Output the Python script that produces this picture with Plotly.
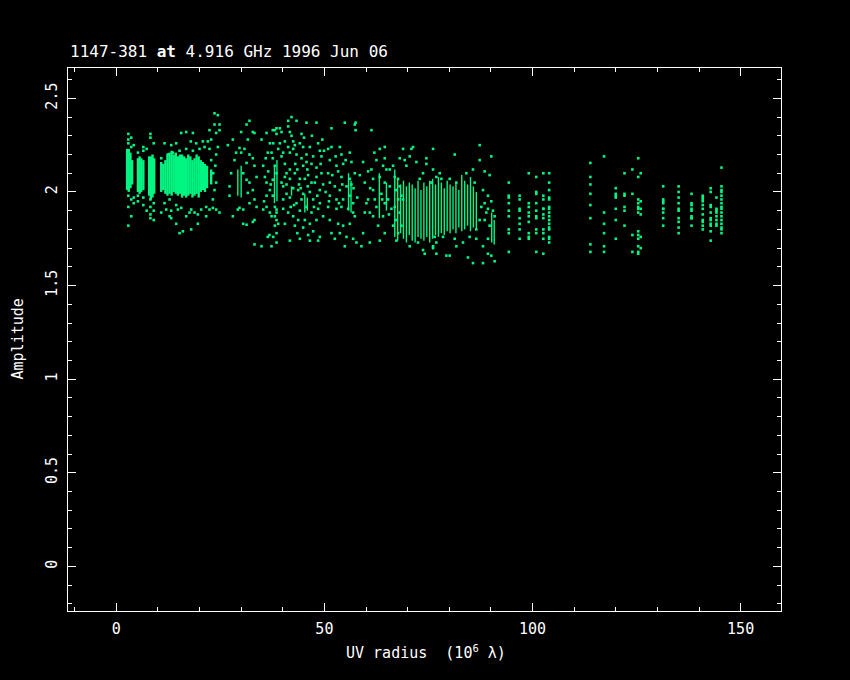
import plotly.graph_objects as go

# ---------------- data (UV radius in 10^6 lambda, amplitude) ----------------
# solid cores of the short baselines: UV radius, lowest and highest amplitude
core_uv = [2.6, 3.0, 3.4, 3.8, 5.2, 5.6, 6.0, 6.5, 7.9, 8.3, 8.7, 9.1,
           10.8, 11.3, 11.8, 12.3, 12.8, 13.3, 13.8, 14.3, 14.8, 15.3, 15.8, 16.3,
           16.8, 17.3, 17.8, 18.3, 18.8, 19.3, 19.8, 20.3, 20.8, 21.3, 21.8, 22.8]
core_lo = [2.01, 2.00, 2.02, 2.04, 2.00, 1.99, 2.00, 2.01, 1.98, 1.96, 1.97, 1.99,
           2.00, 2.01, 1.99, 1.98, 1.99, 1.98, 2.00, 1.99, 1.98, 1.99, 1.97, 1.98,
           1.97, 1.98, 1.99, 1.97, 1.98, 1.99, 1.97, 2.00, 2.01, 2.00, 2.02, 2.04]
core_hi = [2.23, 2.23, 2.21, 2.17, 2.18, 2.19, 2.18, 2.17, 2.19, 2.19, 2.20, 2.18,
           2.16, 2.15, 2.17, 2.20, 2.21, 2.22, 2.20, 2.21, 2.19, 2.20, 2.20, 2.19,
           2.18, 2.20, 2.19, 2.17, 2.18, 2.20, 2.19, 2.17, 2.16, 2.15, 2.14, 2.12]

# thinner streaks of closely packed visibilities on longer baselines
streak_uv = [29.2, 30.0, 38.0, 38.6, 42.1, 45.3, 45.9, 55.8, 56.4, 63.2, 64.9,
             66.9, 67.6, 68.3, 69.0, 69.7, 70.4, 71.1, 71.8, 72.5, 73.2, 73.9, 74.6,
             75.3, 76.0, 76.7, 77.4, 78.1, 78.8, 79.5, 80.2, 80.9, 81.6, 82.3, 83.0,
             83.7, 84.4, 85.1, 85.8, 86.5, 90.2, 90.8]
streak_lo = [1.98, 1.97, 1.94, 1.95, 1.98, 1.89, 1.90, 1.90, 1.89, 1.86, 1.90,
             1.76, 1.74, 1.78, 1.75, 1.73, 1.77, 1.74, 1.73, 1.76, 1.75, 1.74, 1.76,
             1.73, 1.75, 1.77, 1.76, 1.78, 1.77, 1.79, 1.78, 1.80, 1.78, 1.81, 1.79,
             1.80, 1.82, 1.79, 1.81, 1.80, 1.73, 1.72]
streak_hi = [2.12, 2.14, 2.14, 2.17, 2.03, 1.99, 1.97, 2.10, 2.06, 2.10, 2.05,
             2.12, 2.07, 2.04, 2.06, 2.03, 2.05, 2.04, 2.02, 2.06, 2.01, 2.05, 2.03,
             2.06, 2.07, 2.04, 2.08, 2.05, 2.02, 2.06, 2.04, 2.03, 2.05, 2.01, 2.09,
             2.06, 2.04, 2.08, 2.03, 2.00, 1.89, 1.85]

# isolated tracks: one UV radius, amplitudes read along it
track_uv = [2.9, 3.6, 4.2, 5.2, 6.5, 7.3, 8.2, 9.0,
            94.3, 96.9, 99.1, 100.9, 102.6, 104.0,
            113.9, 117.2, 120.0, 122.1, 124.0, 125.4, 126.0,
            131.4, 135.1, 138.2, 140.9, 142.8, 144.2, 145.4]
track_amp = [
    [2.31, 2.28, 2.26, 1.98, 1.92, 1.82],
    [2.29, 2.24, 1.96, 1.87],
    [2.25, 1.97, 1.94],
    [2.21, 1.98, 1.95],
    [2.24, 2.22, 1.97, 1.93],
    [2.23, 1.90],
    [2.31, 2.29, 1.96, 1.92, 1.88, 1.86],
    [2.26, 1.94, 1.90, 1.85],
    [2.05, 1.98, 1.97, 1.94, 1.90, 1.87, 1.80, 1.78, 1.68],
    [1.98, 1.96, 1.91, 1.90, 1.86, 1.83, 1.80, 1.75],
    [2.10, 1.94, 1.92, 1.89, 1.87, 1.84, 1.78, 1.76, 1.75],
    [2.08, 2.00, 1.99, 1.94, 1.90, 1.87, 1.86, 1.80, 1.78, 1.68],
    [2.10, 1.98, 1.96, 1.91, 1.91, 1.88, 1.86, 1.80, 1.78, 1.75, 1.67],
    [2.10, 2.05, 2.01, 1.97, 1.96, 1.92, 1.91, 1.89, 1.87, 1.85, 1.83, 1.81, 1.80, 1.76, 1.75, 1.73],
    [2.155, 2.08, 2.04, 1.99, 1.93, 1.86, 1.72, 1.68],
    [2.19, 1.89, 1.83, 1.78, 1.71, 1.68],
    [2.02, 1.99, 1.98, 1.97, 1.91, 1.85, 1.75],
    [2.10, 1.99, 1.98, 1.92, 1.90, 1.82],
    [2.12, 1.99, 1.77, 1.68],
    [2.18, 2.08, 1.96, 1.94, 1.92, 1.91, 1.89, 1.79, 1.77, 1.75, 1.71, 1.68, 1.67],
    [2.10, 1.95, 1.91, 1.88, 1.76, 1.70],
    [2.03, 1.96, 1.95, 1.94, 1.91, 1.91, 1.89, 1.86, 1.82],
    [2.03, 2.00, 1.97, 1.94, 1.91, 1.90, 1.86, 1.84, 1.81, 1.78],
    [1.99, 1.94, 1.93, 1.91, 1.90, 1.87, 1.86, 1.86, 1.82],
    [1.98, 1.97, 1.96, 1.95, 1.93, 1.91, 1.88, 1.85, 1.84, 1.82, 1.80],
    [2.02, 2.00, 1.93, 1.92, 1.89, 1.86, 1.85, 1.83, 1.82, 1.79, 1.74],
    [1.97, 1.91, 1.90, 1.89, 1.87, 1.85, 1.83, 1.82],
    [2.13, 2.03, 2.01, 2.00, 1.98, 1.96, 1.94, 1.92, 1.91, 1.89, 1.87, 1.85, 1.83, 1.81, 1.80, 1.78],
]

# scattered visibilities (uv, amp)
short_points = [
    (16.8, 2.32), (18.4, 2.315), (15.6, 2.315), (14.4, 2.26), (13.2, 2.25), (17.9, 2.27),
    (19.2, 2.26), (20.8, 2.27), (22.0, 2.27), (22.8, 2.28), (24.0, 2.315), (23.6, 2.36),
    (24.8, 2.36), (23.6, 2.42), (24.4, 2.41), (24.8, 2.33), (22.4, 2.33), (11.6, 2.26),
    (12.8, 1.96), (12.0, 1.906), (12.8, 1.87), (13.2, 1.90), (14.4, 1.93), (14.8, 1.906),
    (15.6, 1.915), (16.8, 1.87), (17.6, 1.89), (18.0, 1.906), (18.8, 1.89), (19.6, 1.88),
    (20.4, 1.906), (21.6, 1.92), (22.4, 1.906), (23.2, 1.915), (24.0, 1.906), (24.8, 1.89),
    (15.2, 1.78), (16.0, 1.79), (18.0, 1.80), (13.2, 1.86), (10.8, 1.89), (11.6, 1.94),
    (14.4, 1.83), (19.6, 1.83), (21.6, 1.87), (23.2, 1.96), (23.6, 2.01), (24.0, 2.05),
    (23.3, 2.10), (23.8, 2.14), (22.8, 2.17), (24.0, 2.20), (24.4, 2.24), (22.4, 2.23),
    (21.2, 2.24), (20.0, 2.23), (18.4, 2.22), (16.8, 2.23), (15.2, 2.22), (13.6, 2.21),
    (12.4, 2.20), (10.8, 2.18),
    (26.8, 2.25), (28.0, 2.28), (30.0, 2.32), (31.3, 2.36), (32.0, 2.38), (32.8, 2.32),
    (33.2, 2.315), (31.6, 2.28), (30.8, 2.23), (32.0, 2.20), (32.8, 2.18), (33.2, 2.14),
    (33.7, 2.08), (32.0, 2.05), (32.8, 2.01), (33.2, 1.96), (33.7, 1.92), (30.5, 1.906),
    (29.6, 1.915), (29.2, 1.906), (28.0, 1.87), (30.5, 1.83), (31.3, 1.825), (32.8, 1.84),
    (33.2, 1.85), (27.2, 1.98), (27.2, 2.03), (27.6, 2.10), (28.4, 2.17), (28.8, 2.21),
    (30.0, 2.21), (29.6, 2.235), (31.3, 2.155), (30.5, 2.10), (31.3, 2.065), (31.6, 1.995),
    (32.0, 1.94), (33.2, 1.72), (34.9, 1.71), (36.4, 1.76), (36.8, 1.77), (38.1, 1.82),
    (38.5, 1.85), (36.1, 2.315), (37.6, 2.33), (38.5, 2.34), (36.9, 2.26), (36.4, 2.21),
    (37.6, 2.18), (38.1, 2.14), (38.5, 2.10), (37.6, 2.065), (36.1, 2.05), (36.9, 2.01),
    (37.6, 1.98), (36.1, 1.92), (35.3, 1.906), (38.5, 1.906), (38.1, 1.87), (34.9, 2.28),
    (35.3, 2.14), (35.7, 2.08), (36.1, 1.98),
    (38.1, 2.33), (38.5, 2.31), (37.7, 2.26), (38.9, 2.23), (37.3, 2.21), (38.1, 1.92),
    (38.5, 1.89), (37.3, 1.87), (38.9, 1.83), (37.7, 1.76), (37.3, 1.71), (38.5, 1.78),
    (38.5, 1.73),
]

mid_points = [
    (42.1, 2.40), (41.3, 2.38), (43.3, 2.38), (45.7, 2.37), (48.1, 2.37), (41.3, 2.35),
    (39.3, 2.34), (39.7, 2.32), (41.7, 2.32), (42.1, 2.30), (44.5, 2.31), (44.1, 2.26),
    (40.5, 2.27), (41.3, 2.24), (42.5, 2.23), (44.9, 2.24), (46.5, 2.24), (48.5, 2.26),
    (48.9, 2.22), (41.7, 2.21), (43.3, 2.20), (44.5, 2.18), (45.7, 2.20), (47.3, 2.19),
    (49.3, 2.19), (40.5, 2.15), (41.7, 2.12), (42.9, 2.10), (44.9, 2.14), (45.7, 2.16),
    (46.9, 2.15), (48.1, 2.13), (40.5, 2.08), (41.7, 2.07), (44.1, 2.07), (45.3, 2.07),
    (46.1, 2.09), (48.1, 2.08), (49.3, 2.10), (40.1, 2.03), (42.5, 2.02), (43.7, 2.01),
    (44.9, 1.99), (46.5, 2.00), (48.9, 2.01), (40.1, 1.96), (41.7, 1.97), (43.3, 1.94),
    (44.5, 1.96), (45.7, 1.92), (47.3, 1.96), (48.9, 1.94), (40.1, 1.91), (41.3, 1.89),
    (42.5, 1.87), (43.7, 1.85), (45.3, 1.85), (46.5, 1.83), (48.1, 1.85), (49.7, 1.87),
    (40.5, 1.83), (42.9, 1.82), (44.9, 1.81), (47.3, 1.79), (48.9, 1.76), (41.7, 1.74),
    (44.1, 1.75), (46.5, 1.74), (48.5, 1.74),
    (39.7, 2.19), (40.9, 2.10), (43.0, 2.15), (43.9, 2.04), (46.0, 2.03), (47.7, 2.05),
    (49.7, 2.04), (40.9, 1.99), (42.7, 1.93), (44.1, 1.90), (46.9, 1.89), (48.5, 1.91),
    (39.7, 2.05), (42.5, 2.27), (47.0, 2.30), (49.5, 2.28), (43.5, 1.78), (46.1, 1.77),
    (35.9, 2.18), (36.5, 2.11), (37.1, 2.04), (35.5, 1.95), (36.9, 1.89), (39.3, 2.26),
    (40.1, 2.21), (40.9, 2.04), (41.9, 1.92), (42.9, 2.25), (43.5, 2.12), (44.3, 2.02),
    (45.1, 2.29), (45.9, 2.12), (46.9, 2.05), (47.5, 1.92), (48.3, 1.98), (49.1, 2.15),
    (49.9, 2.22), (50.3, 2.00), (51.1, 1.95), (51.9, 2.09), (52.7, 2.19), (53.5, 1.94),
    (54.3, 2.04), (55.1, 2.17), (57.0, 2.02), (57.9, 1.97), (58.5, 2.09), (59.7, 1.89),
    (60.5, 2.11), (61.0, 2.02), (62.0, 2.21), (63.9, 1.96), (64.9, 2.12), (65.5, 1.88),
    (50.9, 2.23), (51.7, 2.24), (53.7, 2.24), (54.1, 2.20), (56.1, 2.21), (51.3, 2.17),
    (52.9, 2.14), (54.5, 2.15), (56.5, 2.16), (50.9, 2.10), (53.3, 2.11), (54.1, 2.08),
    (56.1, 2.07), (57.3, 2.10), (51.3, 2.05), (52.5, 2.03), (53.7, 2.01), (55.3, 2.03),
    (56.5, 2.04), (51.3, 1.98), (52.9, 1.96), (54.5, 1.96), (56.1, 1.98), (56.9, 1.94),
    (50.9, 1.92), (52.9, 1.91), (54.1, 1.92), (55.7, 1.91), (56.9, 1.89), (51.3, 1.85),
    (53.3, 1.83), (54.5, 1.82), (56.1, 1.83), (57.3, 1.87), (51.7, 1.78), (53.7, 1.78),
    (55.3, 1.76), (56.9, 1.75), (52.5, 1.75), (57.7, 1.73), (54.9, 1.71), (57.5, 2.37),
    (57.5, 2.33), (54.9, 2.37), (51.7, 2.34), (57.3, 2.36),
    (59.3, 2.16), (59.7, 2.05), (60.5, 1.96), (60.1, 1.94), (60.9, 1.89), (59.3, 1.78),
    (58.9, 1.71), (60.9, 1.73), (61.3, 2.33), (61.3, 2.12), (61.7, 2.07), (61.7, 2.01),
    (62.1, 1.96), (62.5, 1.92), (61.7, 1.87), (62.9, 1.82), (63.3, 1.74), (63.3, 2.23),
    (64.5, 2.24), (64.5, 2.18), (64.1, 2.14), (63.3, 2.08), (64.5, 2.05), (63.7, 1.99),
    (64.5, 1.94), (64.1, 1.87), (62.5, 2.17), (64.5, 1.78),
    (65.7, 2.12), (66.5, 2.14), (66.9, 2.08), (67.7, 2.07), (68.1, 2.03), (67.3, 2.01),
    (68.5, 1.98), (67.7, 1.96), (66.9, 1.92), (68.1, 1.89), (67.3, 1.85), (68.5, 1.82),
    (67.7, 1.78), (66.5, 1.82), (68.9, 1.96), (65.7, 2.03), (66.1, 1.91), (67.3, 1.74),
    (65.3, 1.96), (68.1, 2.18), (68.9, 2.23), (71.3, 2.24), (70.5, 2.19), (69.3, 2.17),
]

long_points = [
    (69.7, 2.14), (72.1, 2.16), (73.7, 2.10), (74.5, 2.15), (76.1, 2.12), (76.9, 2.08),
    (72.9, 2.07), (70.9, 2.23), (74.5, 2.18), (76.1, 2.23), (70.5, 1.71), (72.5, 1.73),
    (73.7, 1.69), (76.1, 1.71), (76.9, 1.67), (74.1, 1.67),
    (77.7, 2.10), (78.1, 2.07), (80.1, 2.07), (81.7, 2.05), (75.7, 2.05), (84.1, 2.10),
    (85.7, 2.12), (86.1, 2.05), (88.5, 2.11), (89.7, 2.09), (81.3, 2.20), (87.3, 2.25),
    (90.1, 2.19), (87.3, 2.17), (76.1, 1.70), (76.9, 1.73), (79.3, 1.66), (80.1, 1.66),
    (81.7, 1.71), (81.3, 1.75), (76.5, 1.76), (78.5, 1.76), (83.3, 1.73), (84.9, 1.76),
    (86.5, 1.75), (87.7, 1.92), (88.5, 1.94), (89.3, 1.91), (90.1, 1.95), (90.5, 1.90),
    (90.9, 1.87), (89.7, 1.82), (89.3, 1.75), (88.1, 1.71), (89.3, 1.67), (90.1, 1.66),
    (90.9, 1.63), (88.1, 1.62), (85.7, 1.62), (84.5, 1.65), (88.5, 1.85), (88.9, 1.89),
    (87.3, 1.85), (86.5, 1.80), (88.1, 2.01), (89.3, 1.98),
]

# axis ticks
x_ticks = [0, 50, 100, 150]
y_ticks = [0, 0.5, 1, 1.5, 2, 2.5]
y_tick_text = ["0", "0.5", "1", "1.5", "2", "2.5"]

GREEN = "#00F582"
FONT = "DejaVu Sans Mono"

# ---------------- build traces ----------------
pts_x, pts_y = [], []
for group in (short_points, mid_points, long_points):
    for u, a in group:
        pts_x.append(u)
        pts_y.append(a)
for u, amps in zip(track_uv, track_amp):
    for a in amps:
        pts_x.append(u)
        pts_y.append(a)


def segments(uvs, los, his):
    sx, sy = [], []
    for u, lo, hi in zip(uvs, los, his):
        sx += [u, u, None]
        sy += [lo, hi, None]
    return sx, sy


cx, cy = segments(core_uv, core_lo, core_hi)
sx, sy = segments(streak_uv, streak_lo, streak_hi)

fig = go.Figure()
fig.add_trace(go.Scatter(x=cx, y=cy, mode="lines",
                         line=dict(color=GREEN, width=2.4), hoverinfo="skip"))
fig.add_trace(go.Scatter(x=sx, y=sy, mode="lines",
                         line=dict(color=GREEN, width=1.4), hoverinfo="skip"))
fig.add_trace(go.Scatter(x=pts_x, y=pts_y, mode="markers",
                         marker=dict(color=GREEN, size=2.6, symbol="square",
                                     line=dict(width=0))))

axis_common = dict(
    showline=True, linecolor="white", linewidth=1, mirror="allticks",
    ticks="inside", ticklen=8, tickwidth=1, tickcolor="white",
    showgrid=False, zeroline=False,
    tickfont=dict(family=FONT, size=15, color="white"),
)

fig.update_xaxes(range=[-11.6, 159.7], tickvals=x_ticks,
                 minor=dict(dtick=10, tick0=0, ticks="inside", ticklen=4,
                            tickcolor="white", tickwidth=1, showgrid=False),
                 ticklabelstandoff=4,
                 **axis_common)
fig.update_yaxes(range=[-0.238, 2.662], tickvals=y_ticks, ticktext=y_tick_text,
                 tickangle=-90,
                 minor=dict(dtick=0.1, tick0=0, ticks="inside", ticklen=4,
                            tickcolor="white", tickwidth=1, showgrid=False),
                 ticklabelstandoff=4,
                 **axis_common)

fig.update_layout(
    width=850, height=680,
    paper_bgcolor="black", plot_bgcolor="black",
    margin=dict(l=68, r=69, t=68, b=69),
    showlegend=False,
    font=dict(family=FONT, color="white", size=15),
    annotations=[
        dict(text="1147-381 <b>at</b> 4.916 GHz 1996 Jun 06", xref="paper", yref="paper",
             x=0, y=1.0313, xanchor="left", yanchor="middle", showarrow=False,
             font=dict(family=FONT, size=16, color="white")),
        dict(text="UV radius  (10<sup>6</sup> λ)", xref="paper", yref="paper",
             x=0.502, y=-0.0755, xanchor="center", yanchor="middle", showarrow=False,
             font=dict(family=FONT, size=15, color="white")),
        dict(text="Amplitude", xref="paper", yref="paper", textangle=-90,
             x=-0.0708, y=0.501, xanchor="center", yanchor="middle", showarrow=False,
             font=dict(family=FONT, size=15, color="white")),
    ],
)

fig.write_html("out.html", config={"displayModeBar": False},
               post_script="document.body.style.margin='0';")
